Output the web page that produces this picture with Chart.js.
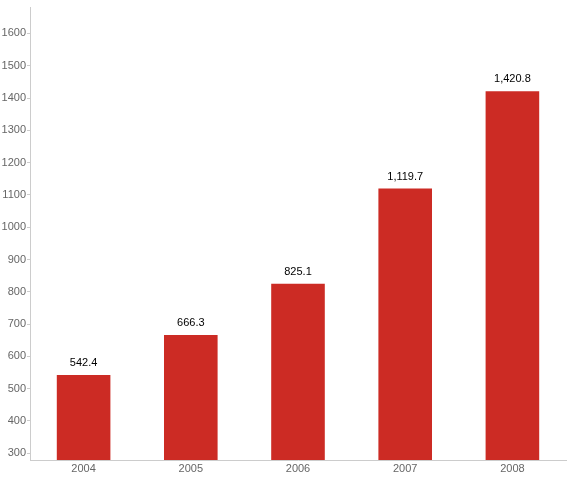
<!DOCTYPE html>
<html>
  <head>
    <title>Bar Chart</title>
    <script src="https://cdn.jsdelivr.net/npm/chart.js@4.4.0/dist/chart.umd.min.js"></script>
    <style>
      body { margin: 0; background: #fff; }
      #wrap { width: 580px; height: 480px; position: relative; }
    </style>
  </head>
  <body>
    <div id="wrap"><canvas id="myChart"></canvas></div>
    <script>
      const years = ['2004', '2005', '2006', '2007', '2008'];
      const values = [542.4, 666.3, 825.1, 1119.7, 1420.8];
      const yTicks = [300, 400, 500, 600, 700, 800, 900, 1000, 1100, 1200, 1300, 1400, 1500, 1600];

      // draw the value above each bar
      const barLabels = {
        id: 'barLabels',
        afterDatasetsDraw(chart) {
          const ctx = chart.ctx;
          const meta = chart.getDatasetMeta(0);
          ctx.save();
          ctx.font = '11px "Liberation Sans", Arial, sans-serif';
          ctx.fillStyle = '#000';
          ctx.textAlign = 'center';
          ctx.textBaseline = 'middle';
          meta.data.forEach((bar, i) => {
            const txt = values[i].toLocaleString('en-US', { minimumFractionDigits: 1 });
            ctx.fillText(txt, bar.x, bar.y - 12);
          });
          ctx.restore();
        }
      };

      Chart.defaults.font.family = '"Liberation Sans", Arial, sans-serif';
      Chart.defaults.font.size = 11;
      Chart.defaults.color = '#666';

      const ctx = document.getElementById('myChart').getContext('2d');
      const myChart = new Chart(ctx, {
        type: 'bar',
        data: {
          labels: years,
          datasets: [{
            data: values,
            backgroundColor: '#cc2b24',
            borderWidth: 0,
            categoryPercentage: 1,
            barPercentage: 0.5
          }]
        },
        options: {
          responsive: true,
          maintainAspectRatio: false,
          animation: false,
          layout: { padding: { left: 0, right: 14, top: 5, bottom: 0 } },
          plugins: { legend: { display: false }, tooltip: { enabled: false } },
          scales: {
            x: {
              grid: { display: false, drawTicks: false },
              border: { color: '#ccc' },
              ticks: { padding: 2 },
              afterFit: scale => { scale.height = 20; }
            },
            y: {
              min: 279,
              max: 1680,
              afterBuildTicks: scale => { scale.ticks = yTicks.map(v => ({ value: v })); },
              grid: { drawOnChartArea: false, tickLength: 3, color: '#ccc' },
              border: { color: '#ccc' },
              ticks: { padding: 1, callback: v => String(v) },
              afterFit: scale => { scale.width = 30; }
            }
          }
        },
        plugins: [barLabels]
      });
    </script>
  </body>
</html>
